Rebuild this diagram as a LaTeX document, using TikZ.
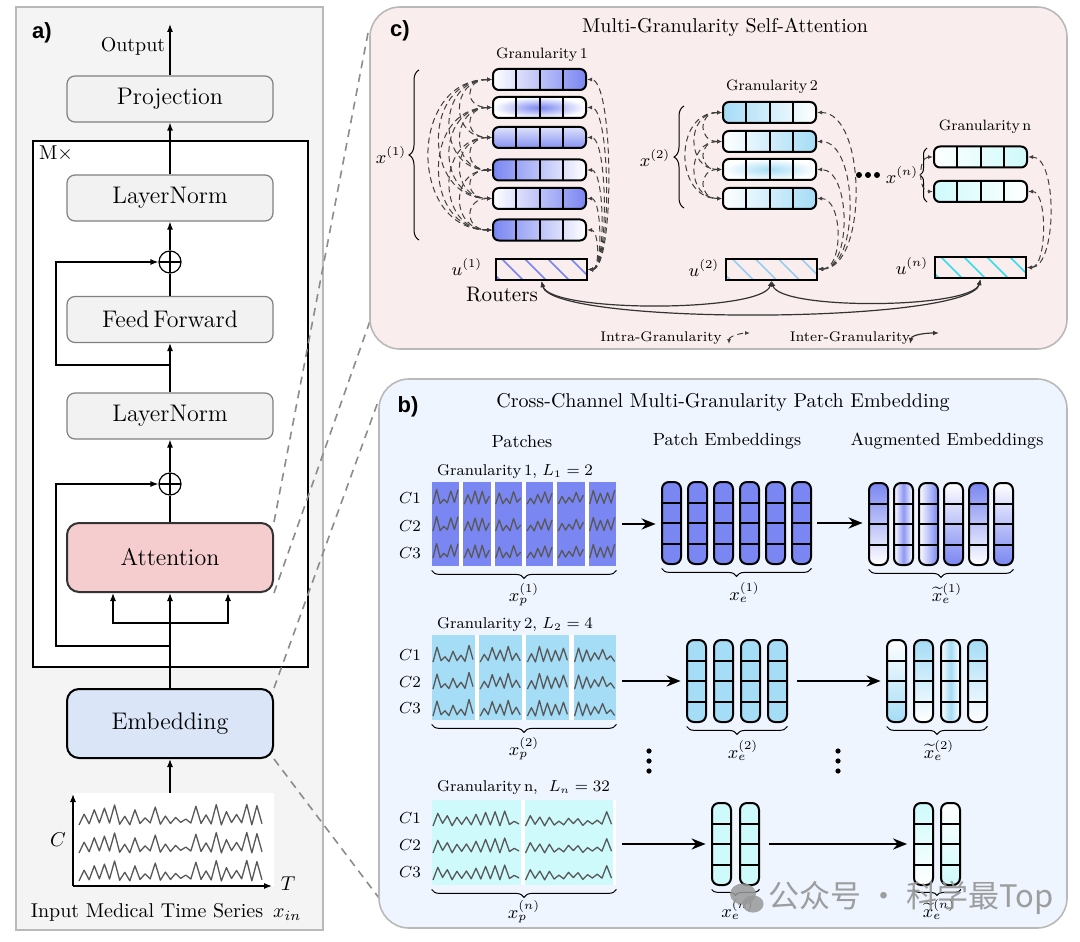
\documentclass[tikz,border=0pt]{standalone}
\usepackage{fontspec}
\newfontfamily\labfont{Liberation Sans}
\newfontfamily\cjkfont{Noto Sans CJK SC}
\usetikzlibrary{calc,decorations.pathreplacing,arrows.meta}

\definecolor{gA}{RGB}{122,134,241}
\definecolor{gB}{RGB}{165,220,246}
\definecolor{gN}{RGB}{206,250,251}
\definecolor{hatchA}{RGB}{120,132,240}
\definecolor{hatchB}{RGB}{150,206,240}
\definecolor{hatchN}{RGB}{50,222,235}
\definecolor{apanel}{RGB}{244,244,244}
\definecolor{cpanel}{RGB}{250,237,237}
\definecolor{bpanel}{RGB}{238,245,254}
\definecolor{boxgray}{RGB}{242,242,242}
\definecolor{attpink}{RGB}{245,205,207}
\definecolor{embblue}{RGB}{218,229,247}
\definecolor{sigcol}{RGB}{88,88,88}
\definecolor{framegray}{RGB}{185,185,185}

\newcommand\wig[6]{%
  \pgfmathsetseed{#4}%
  \draw[sig] (#1,#2) \foreach \wk in {1,...,#5}{ -- ({#1+\wk*(#3)/(#5)},{#2-(isodd(\wk)?(0.25+0.75*rnd)*(#6):0.15*rnd*(#6))}) };%
}

\tikzset{
  gbox/.style={draw=black!50, fill=boxgray, rounded corners=4pt, minimum width=103pt, minimum height=23pt, inner sep=0pt, font=\large, line width=0.6pt},
  plusnode/.style={circle, draw, line width=0.6pt, minimum size=11pt, inner sep=0pt,
    path picture={\draw[line width=0.6pt] (path picture bounding box.north) -- (path picture bounding box.south) (path picture bounding box.west) -- (path picture bounding box.east);}},
  arr/.style={->, >={Latex[length=4pt,width=3pt]}, line width=0.6pt},
  plainln/.style={line width=0.6pt},
  zoomline/.style={draw=black!45, line width=0.8pt, dash pattern=on 4pt off 3pt},
  sig/.style={draw=sigcol, line width=0.65pt, line join=round},
  hcells/.style={path picture={\foreach \dd in {0.25,0.5,0.75}{\draw[line width=1pt] ($(path picture bounding box.north west)!\dd!(path picture bounding box.north east)$) -- ($(path picture bounding box.south west)!\dd!(path picture bounding box.south east)$);}}},
  vcells/.style={path picture={\foreach \dd in {0.25,0.5,0.75}{\draw[line width=1pt] ($(path picture bounding box.north west)!\dd!(path picture bounding box.south west)$) -- ($(path picture bounding box.north east)!\dd!(path picture bounding box.south east)$);}}},
  tokrow/.style={draw=black, line width=1pt, rounded corners=3pt, minimum width=46.5pt, minimum height=10.5pt, inner sep=0pt, hcells},
  ecol/.style={draw=black, line width=1pt, rounded corners=3.5pt, minimum width=9.5pt, minimum height=41pt, inner sep=0pt, vcells},
  router/.style={draw=black, line width=1pt, minimum width=45.5pt, minimum height=10.5pt, inner sep=0pt, fill=cpanel,
    path picture={\foreach \hh in {-17,6,29,52,75}{\draw[#1, line width=0.8pt] ($(path picture bounding box.north west)+(\hh,0)$) -- ++(21,21);}}},
  intra/.style={densely dashed, draw=black!75, line width=0.5pt, <->, >={Latex[length=2.5pt,width=2pt]}},
  inter/.style={draw=black!80, line width=0.6pt, <->, >={Latex[length=3pt,width=2.4pt]}},
  barr/.style={->, >={Stealth[length=7pt,width=5.5pt]}, line width=1.2pt, shorten <=3pt, shorten >=3pt},
  grp/.style={inner sep=0pt, draw=none},
  brc/.style={decorate, decoration={brace, mirror, amplitude=4pt}, line width=0.5pt},
  lbrc/.style={decorate, decoration={brace, amplitude=5pt}, line width=0.5pt},
  panellab/.style={font=\labfont\bfseries\fontsize{11}{12}\selectfont},
  ttl/.style={font=\fontsize{10}{12}\selectfont},
  glab/.style={font=\fontsize{7.5}{9}\selectfont},
  vlab/.style={font=\fontsize{9}{10}\selectfont},
  clab/.style={font=\fontsize{8.5}{10}\selectfont, anchor=east},
  hdr/.style={font=\fontsize{8.8}{10}\selectfont},
  rlab/.style={font=\fontsize{7.8}{9}\selectfont, anchor=west},
  leg/.style={font=\fontsize{7}{8}\selectfont},
}

\begin{document}
\begin{tikzpicture}[x=0.5pt,y=-0.5pt]
\useasboundingbox (0,0) rectangle (1080,941);

%% ================= panel a =================
\draw[framegray, fill=apanel, line width=0.8pt] (16,7) rectangle (323,930);
\node[panellab] (la) at (42,33) {a)};
\draw[black, line width=0.6pt, fill=white] (33,141) rectangle (308,667);
\node (mx) at (56,154) {M$\times$};

\node[gbox] (proj) at (170,99) {Projection};
\node[gbox] (ln2) at (170,198) {LayerNorm};
\node[gbox] (ff) at (170,319.5) {Feed\,Forward};
\node[gbox] (ln1) at (170,416) {LayerNorm};
\node[gbox, minimum height=34.5pt, fill=attpink, draw=black!80, line width=1pt, rounded corners=6pt] (att) at (170,557.5) {Attention};
\node[gbox, minimum height=34.5pt, fill=embblue, draw=black, line width=1pt, rounded corners=6pt] (emb) at (170,723.5) {Embedding};
\node[plusnode] (pl1) at (170,262) {};
\node[plusnode] (pl2) at (170,484) {};
\coordinate (out) at (170,24);
\node (outlab) at (133,46) {Output};

\draw[arr] (proj.north) -- (out);
\draw[arr] (ln2.north) -- (proj.south);
\draw[arr] (pl1.north) -- (ln2.south);
\draw[plainln] (ff.north) -- (pl1.south);
\draw[arr] (ln1.north) -- (ff.south);
\coordinate (r1) at (170,365);
\draw[arr] (r1) -- ++(-114,0) |- (pl1.west);
\draw[arr] (pl2.north) -- (ln1.south);
\draw[plainln] (att.north) -- (pl2.south);
\coordinate (r2) at (170,646);
\draw[arr] (r2) -- ++(-114,0) |- (pl2.west);
\draw[arr] (emb.north) -- (att.south);
\coordinate (br) at (170,623);
\draw[arr] (br) -| ([xshift=-28.5pt]att.south);
\draw[arr] (br) -| ([xshift=29pt]att.south);
\coordinate (tsTop) at (170,793);
\draw[arr] (tsTop) -- (emb.south);

% input time series
\fill[white] (72,793) rectangle (274,887);
\coordinate (o) at (73,886);
\coordinate (ya) at (73,794);
\coordinate (xa) at (272,886);
\draw[arr] (o) -- (ya);
\draw[arr] (o) -- (xa);
\node (clab) at (58,840) {$C$};
\node (tlab) at (288,884) {$T$};
\foreach \yb in {825,853,881} {\wig{79}{\yb}{183}{11}{36}{21}}
\node (inlab) at (166,912) {Input Medical Time Series\enspace $x_{in}$};

%% zoom lines
\coordinate (cz1) at (368,33);
\coordinate (cz2) at (370,321);
\coordinate (bz1) at (379,399);
\coordinate (bz2) at (382,902);
\draw[zoomline] (att.north east) -- (cz1);
\draw[zoomline] (att.south east) -- (cz2);
\draw[zoomline] (emb.north east) -- (bz1);
\draw[zoomline] (emb.south east) -- (bz2);

%% ================= panel c =================
\draw[framegray, fill=cpanel, line width=0.8pt, rounded corners=15pt] (370,7) rectangle (1067,349);
\node[panellab] (lc) at (400,31) {c)};
\node[ttl] (ctitle) at (725,27) {Multi-Granularity Self-Attention};

\node[glab] (g1lab) at (542,55) {Granularity\,1};
\node[glab] (g2lab) at (772,87) {Granularity\,2};
\node[glab] (gnlab) at (985,127) {Granularity\,n};

% granularity 1 tokens
\node[tokrow, left color=white, right color=gA] (a1) at (539.5,79.5) {};
\node[tokrow, inner color=gA, outer color=white] (a2) at (539.5,107.5) {};
\node[tokrow, top color=gA!25, bottom color=gA!90] (a3) at (539.5,137.5) {};
\node[tokrow, left color=gA, right color=white] (a4) at (539.5,170) {};
\node[tokrow, left color=white, right color=gA] (a5) at (539.5,198.5) {};
\node[tokrow, left color=gA, right color=white] (a6) at (539.5,230) {};
\node[router=hatchA] (u1) at (541.5,269.5) {};

% granularity 2 tokens
\node[tokrow, left color=gB, right color=white] (b1) at (769.5,112.5) {};
\node[tokrow, left color=white, right color=gB] (b2) at (769.5,141.5) {};
\node[tokrow, inner color=gB, outer color=white] (b3) at (769.5,169.5) {};
\node[tokrow, left color=white, right color=gB] (b4) at (769.5,198.5) {};
\node[router=hatchB] (u2) at (771.5,269) {};

% granularity n tokens
\node[tokrow, left color=white, right color=gN] (n1) at (980.5,157) {};
\node[tokrow, left color=gN, right color=white] (n2) at (980.5,191.5) {};
\node[router=hatchN] (un) at (980.5,267.5) {};

% braces and labels
\draw[lbrc] (419,240) -- (419,70);
\node[vlab] (x1lab) at (391,155) {$x^{(1)}$};
\draw[lbrc] (684,208) -- (684,106);
\node[vlab] (x2lab) at (655,158) {$x^{(2)}$};
\draw[lbrc, decoration={brace, amplitude=3.5pt}] (927,202) -- (927,148);
\node[vlab] (xnlab) at (902,175) {$x^{(n)}$};
\node[vlab] (u1lab) at (467,267) {$u^{(1)}$};
\node[vlab] (u2lab) at (704,268) {$u^{(2)}$};
\node[vlab] (unlab) at (912,266) {$u^{(n)}$};
\node[font=\fontsize{10.5}{12}\selectfont] (routers) at (502,295) {Routers};

\fill (859,175) circle[radius=1.5pt];
\fill (868,175) circle[radius=1.5pt];
\fill (877,175) circle[radius=1.5pt];

% intra-granularity connections (left)
\foreach \i/\j in {1/2,1/3,1/4,1/5,1/6,2/3,2/4,2/5,2/6,3/4,3/5,3/6,4/5,4/6,5/6}{
  \pgfmathsetmacro\cc{14+14*(\j-\i)}
  \draw[intra] (a\i.west) .. controls +(-\cc,0) and +(-\cc,0) .. (a\j.west);
}
\foreach \i/\j in {1/2,1/3,1/4,2/3,2/4,3/4}{
  \pgfmathsetmacro\cc{12+12*(\j-\i)}
  \draw[intra] (b\i.west) .. controls +(-\cc,0) and +(-\cc,0) .. (b\j.west);
}
\draw[intra] (n1.west) .. controls +(-15,0) and +(-15,0) .. (n2.west);
% router connections (right)
\foreach \i in {1,...,6}{
  \pgfmathsetmacro\cc{9+3*(7-\i)}
  \draw[intra] (u1.east) .. controls +(\cc,0) and +(\cc,0) .. (a\i.east);
}
\foreach \i in {1,...,4}{
  \pgfmathsetmacro\cc{18+8*(5-\i)}
  \draw[intra] (u2.east) .. controls +(\cc,0) and +(\cc,0) .. (b\i.east);
}
\draw[intra] (un.east) .. controls +(30,0) and +(30,0) .. (n1.east);
\draw[intra] (un.east) .. controls +(20,0) and +(20,0) .. (n2.east);

% inter-granularity
\draw[inter] (u1.south) .. controls +(8,32) and +(-8,32) .. (u2.south);
\draw[inter] (u1.south) .. controls +(10,45) and +(-10,45) .. (un.south);
\draw[inter] (u2.south) .. controls +(8,30) and +(-8,30) .. (un.south);

% legend
\node[leg] (legintra) at (661,338) {Intra-Granularity};
\coordinate (li1) at (729,344);
\coordinate (li2) at (750,333);
\draw[intra] (li1) .. controls +(0,-8) and +(-8,0) .. (li2);
\node[leg] (leginter) at (850,338) {Inter-Granularity};
\coordinate (lj1) at (910,344);
\coordinate (lj2) at (939,333);
\draw[inter] (lj1) .. controls +(2,-10) and +(-10,0) .. (lj2);

%% ================= panel b =================
\draw[framegray, fill=bpanel, line width=0.8pt, rounded corners=15pt] (379,379) rectangle (1067,928);
\node[panellab] (lb) at (408,407) {b)};
\node[ttl] (btitle) at (723,403) {Cross-Channel Multi-Granularity Patch Embedding};
\node[hdr] (hp) at (522,441) {Patches};
\node[hdr] (he) at (727,441) {Patch Embeddings};
\node[hdr] (ha) at (947,441) {Augmented Embeddings};

% ---- row 1
\node[rlab] (r1lab) at (430,472) {Granularity\,1, $L_1=2$};
\fill[white] (432,482) rectangle (616,566);
\foreach \k in {0,...,5}{
  \pgfmathsetmacro\px{432+\k*31.34}
  \pgfmathtruncatemacro\sd{\k*7+3}
  \fill[gA] (\px,482) rectangle ++(27.3,84);
  \foreach \yb in {504,531,558}{\wig{\px+1}{\yb}{25}{\sd}{7}{15}}
}
\node[grp, minimum width=92pt, minimum height=42pt] (P1) at (524,524) {};
\node[clab] (c11) at (428,498) {$C1$};
\node[clab] (c12) at (428,526) {$C2$};
\node[clab] (c13) at (428,553) {$C3$};
\foreach \k in {0,...,5}{\node[ecol, fill=gA] (e1\k) at ({671.5+\k*26},523) {};}
\node[grp, minimum width=74.5pt, minimum height=41pt] (E1) at (736.5,523) {};
\node[ecol, top color=gA, bottom color=white] (s10) at (878.5,524) {};
\node[ecol, left color=white, right color=white, middle color=gA!85] (s11) at (903.5,524) {};
\node[ecol, left color=white, right color=gA] (s12) at (928.5,524) {};
\node[ecol, top color=white, bottom color=gA] (s13) at (953.5,524) {};
\node[ecol, top color=gA, bottom color=white] (s14) at (978.5,524) {};
\node[ecol, top color=white, bottom color=gA] (s15) at (1003.5,524) {};
\node[grp, minimum width=72pt, minimum height=41pt] (A1) at (941,524) {};
\draw[barr] (P1.east) -- (P1.east -| E1.west);
\draw[barr] (E1.east) -- (E1.east -| A1.west);
\draw[brc] ([yshift=-2pt]P1.south west) -- ([yshift=-2pt]P1.south east);
\draw[brc] ([yshift=-2pt]E1.south west) -- ([yshift=-2pt]E1.south east);
\draw[brc] ([yshift=-2pt]A1.south west) -- ([yshift=-2pt]A1.south east);
\node[vlab] (xp1) at ([yshift=-14pt]P1.south) {$x_p^{(1)}$};
\node[vlab] (xe1) at ([xshift=4pt,yshift=-14pt]E1.south) {$x_e^{(1)}$};
\node[vlab] (xa1) at ([xshift=3pt,yshift=-14pt]A1.south) {$\widetilde{x}_e^{(1)}$};

% ---- row 2
\node[rlab] (r2lab) at (430,625) {Granularity\,2, $L_2=4$};
\fill[white] (432,635) rectangle (616,720);
\foreach \k in {0,...,3}{
  \pgfmathsetmacro\px{432+\k*47.2}
  \pgfmathtruncatemacro\sd{\k*5+41}
  \fill[gB] (\px,635) rectangle ++(42.6,85);
  \foreach \yb in {662,689,716}{\wig{\px+1}{\yb}{40}{\sd}{10}{17}}
}
\node[grp, minimum width=92pt, minimum height=42.5pt] (P2) at (524,677.5) {};
\node[clab] (c21) at (428,655) {$C1$};
\node[clab] (c22) at (428,682) {$C2$};
\node[clab] (c23) at (428,708) {$C3$};
\foreach \k in {0,...,3}{\node[ecol, fill=gB] (e2\k) at ({696.5+\k*27},681) {};}
\node[grp, minimum width=50pt, minimum height=41pt] (E2) at (737,681) {};
\node[ecol, top color=white, bottom color=gB] (s20) at (896.5,681) {};
\node[ecol, top color=gB, bottom color=white] (s21) at (923.5,681) {};
\node[ecol, left color=white, right color=white, middle color=gB] (s22) at (950.5,681) {};
\node[ecol, top color=gB, bottom color=white] (s23) at (977.5,681) {};
\node[grp, minimum width=50pt, minimum height=41pt] (A2) at (937,681) {};
\draw[barr] (E2.west -| P2.east) -- (E2.west);
\draw[barr] ([xshift=2pt]E2.east) -- (E2.east -| A2.west);
\draw[brc] ([yshift=-2pt]P2.south west) -- ([yshift=-2pt]P2.south east);
\draw[brc] ([yshift=-2pt]E2.south west) -- ([yshift=-2pt]E2.south east);
\draw[brc] ([yshift=-2pt]A2.south west) -- ([yshift=-2pt]A2.south east);
\node[vlab] (xp2) at ([yshift=-14pt]P2.south) {$x_p^{(2)}$};
\node[vlab] (xe2) at ([xshift=3pt,yshift=-14pt]E2.south) {$x_e^{(2)}$};
\node[vlab] (xa2) at ([xshift=1pt,yshift=-14pt]A2.south) {$\widetilde{x}_e^{(2)}$};

% vertical dots
\foreach \yy in {751,761,771}{
  \fill (649,\yy) circle[radius=1.3pt];
  \fill (838,\yy) circle[radius=1.3pt];
}

% ---- row n
\node[rlab] (rnlab) at (430,788) {Granularity\,n, \ $L_n=32$};
\fill[white] (432,800) rectangle (616,885);
\foreach \k in {0,1}{
  \pgfmathsetmacro\px{432+\k*92.5}
  \pgfmathtruncatemacro\sd{\k*13+77}
  \fill[gN] (\px,800) rectangle ++(88.5,85);
  \foreach \yb in {826,853,880}{\wig{\px+1}{\yb}{86}{\sd}{18}{18}}
}
\node[grp, minimum width=92pt, minimum height=42.5pt] (Pn) at (524,842.5) {};
\node[clab] (cn1) at (428,818) {$C1$};
\node[clab] (cn2) at (428,845) {$C2$};
\node[clab] (cn3) at (428,872) {$C3$};
\node[ecol, fill=gN] (en0) at (721.5,844) {};
\node[ecol, fill=gN] (en1) at (749.5,844) {};
\node[grp, minimum width=23.5pt, minimum height=41pt] (En) at (735.5,844) {};
\node[ecol, top color=gN, bottom color=white] (sn0) at (923.5,844) {};
\node[ecol, top color=white, bottom color=gN] (sn1) at (950.5,844) {};
\node[grp, minimum width=23.5pt, minimum height=41pt] (An) at (937,844) {};
\draw[barr] (En.west -| Pn.east) -- (En.west);
\draw[barr] ([xshift=2pt]En.east) -- (En.east -| An.west);
\draw[brc] ([yshift=-2pt]Pn.south west) -- ([yshift=-2pt]Pn.south east);
\draw[brc, decoration={brace, mirror, amplitude=3pt}] ([yshift=-2pt]En.south west) -- ([yshift=-2pt]En.south east);
\draw[brc, decoration={brace, mirror, amplitude=3pt}] ([yshift=-2pt]An.south west) -- ([yshift=-2pt]An.south east);
\node[vlab] (xpn) at ([yshift=-13pt]Pn.south) {$x_p^{(n)}$};
\node[vlab] (xen) at ([xshift=1pt,yshift=-12pt]En.south) {$x_e^{(n)}$};
\node[vlab] (xan) at ([xshift=1pt,yshift=-12pt]An.south) {$\widetilde{x}_e^{(n)}$};

%% watermark
\fill[black!40, opacity=0.85] (743,894) ellipse[x radius=6.5pt, y radius=5.3pt];
\fill[black!40, opacity=0.85] (753,904) ellipse[x radius=5.3pt, y radius=4.3pt];
\node[text=black!42, font=\cjkfont\fontsize{15.5}{16}\selectfont, opacity=0.9] (wm) at (911,898) {公众号 · 科学最Top};

\end{tikzpicture}
\end{document}
